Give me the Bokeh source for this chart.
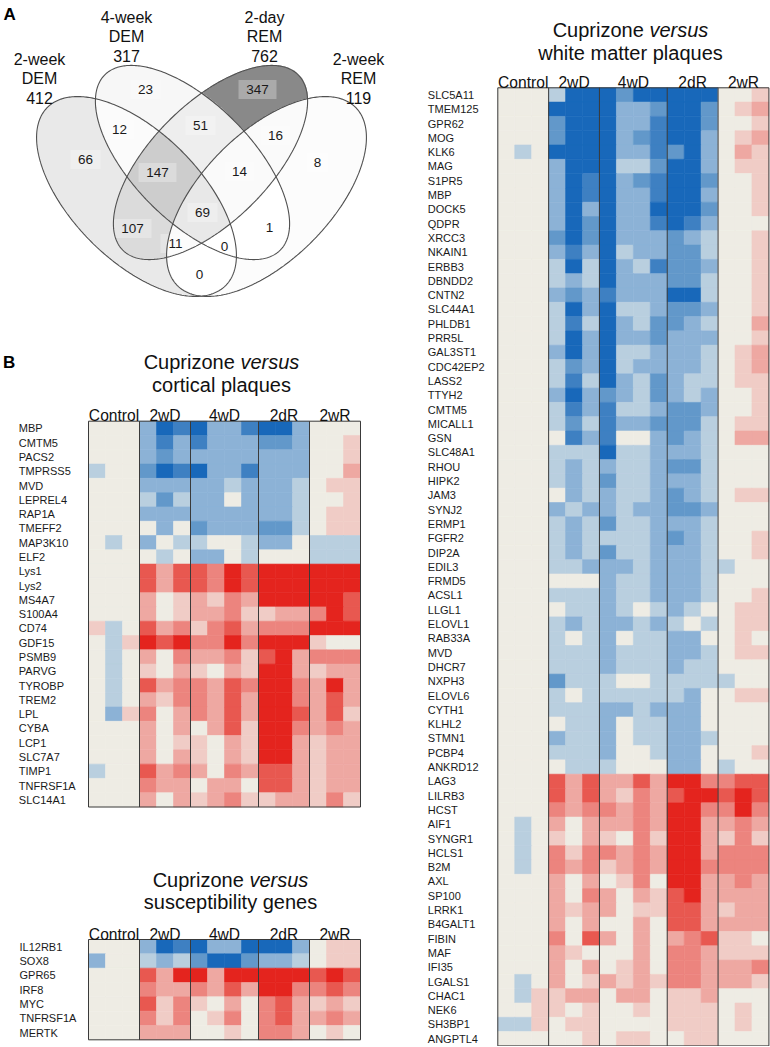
import numpy as np
from bokeh.plotting import figure
from bokeh.models import Range1d, LinearColorMapper, ColumnDataSource
from bokeh.transform import transform
from bokeh.layouts import row, column
from bokeh.embed import file_html
from bokeh.resources import INLINE
from bokeh.core.properties import value

# ---------------- data ----------------
venn_set_lines = [["2-week", "DEM"], ["4-week", "DEM"], ["2-day", "REM"], ["2-week", "REM"]]
venn_totals = [412, 317, 762, 119]
venn_regions = ["1000", "0100", "0010", "0001", "1100", "0110", "0011", "1010",
                "0101", "1001", "1110", "0111", "1011", "1101", "1111"]
venn_counts = [66, 23, 347, 8, 12, 51, 16, 107, 1, 0, 147, 14, 11, 0, 69]

groups = ["Control", "2wD", "4wD", "2dR", "2wR"]
group_sizes = [3, 3, 4, 3, 3]

cort_genes = ["MBP", "CMTM5", "PACS2", "TMPRSS5", "MVD", "LEPREL4", "RAP1A", "TMEFF2",
              "MAP3K10", "ELF2", "Lys1", "Lys2", "MS4A7", "S100A4", "CD74", "GDF15",
              "PSMB9", "PARVG", "TYROBP", "TREM2", "LPL", "CYBA", "LCP1", "SLC7A7",
              "TIMP1", "TNFRSF1A", "SLC14A1"]
cort_values = [
    [0, 0, 0, -2, -5, -4, -5, -2, -2, -4, -5, -5, -2, 0, 0, 0],
    [0, 0, 0, -2, -4, -2, -4, -2, -2, -2, -3, -3, -2, 0, 0, 1],
    [0, 0, 0, -2, -3, -2, -2, -2, -2, -2, -2, -2, -2, 0, 0, 1],
    [-1, 0, 0, -3, -5, -4, -5, -2, -2, -4, -2, -2, -2, 0, 0, 2],
    [0, 0, 0, -2, -2, -2, -2, -2, -1, -2, -2, -2, -1, 0, 1, 1],
    [0, 0, 0, -1, -3, -1, -2, -2, 0, -2, -2, -2, -1, 0, 0, 1],
    [0, 0, 0, -2, -2, -2, -2, -2, -2, -2, -2, -2, -1, 0, 1, 1],
    [0, 0, 0, 0, -2, 0, -3, -2, -2, -2, -3, -3, -1, 0, 1, 1],
    [0, -1, 0, -2, 0, -1, -1, 0, 0, -1, -2, -2, 0, -1, -1, -1],
    [0, 0, 0, 0, -1, 0, -2, -2, 0, -1, 0, 0, 0, -1, -1, -1],
    [0, 0, 0, 4, 2, 4, 4, 3, 5, 4, 5, 5, 5, 5, 5, 5],
    [0, 0, 0, 4, 2, 4, 4, 3, 5, 4, 5, 5, 5, 5, 5, 5],
    [0, 0, 0, 2, 0, 1, 2, 1, 3, 2, 5, 5, 5, 5, 5, 4],
    [0, 0, 0, 2, 0, 1, 2, 2, 3, 1, 1, 2, 2, 3, 5, 4],
    [1, -1, 0, 4, 2, 3, 1, 3, 4, 2, 3, 3, 3, 5, 5, 5],
    [0, -1, 1, 5, 4, 5, 3, 3, 5, 3, 5, 5, 5, 1, 0, 0],
    [0, -1, 0, 2, 0, 3, 2, 2, 3, 1, 4, 5, 2, 3, 3, 3],
    [0, -1, 0, 1, 0, 2, 1, 0, 2, 1, 5, 5, 2, 1, 2, 2],
    [0, -1, 0, 4, 2, 3, 3, 2, 4, 3, 5, 5, 3, 2, 5, 2],
    [0, -1, 0, 2, 1, 3, 3, 2, 4, 2, 5, 5, 3, 2, 4, 2],
    [0, -2, 1, 3, 0, 2, 3, 2, 4, 2, 5, 5, 4, 2, 4, 1],
    [0, 0, 0, 2, 0, 2, 0, 2, 4, 1, 5, 5, 3, 2, 3, 2],
    [0, 0, 0, 2, 0, 1, 1, 0, 2, 1, 5, 5, 2, 1, 2, 2],
    [0, 0, 0, 2, 0, 2, 1, 0, 2, 1, 5, 5, 2, 1, 2, 2],
    [-1, 0, 0, 4, 2, 3, 2, 0, 3, 2, 4, 4, 2, 1, 2, 2],
    [0, 0, 0, 3, 2, 2, 0, 2, 2, 0, 4, 4, 2, 1, 2, 2],
    [0, 0, 0, 2, 0, 2, 1, 2, 3, 1, 1, 2, 2, 1, 3, 1],
]

susc_genes = ["IL12RB1", "SOX8", "GPR65", "IRF8", "MYC", "TNFRSF1A", "MERTK"]
susc_values = [
    [0, 0, 0, -2, -5, -4, -5, -2, -2, -5, -5, -5, -2, 0, 1, 1],
    [-2, 0, 0, -1, -2, -1, -3, -5, -5, -3, -2, -2, -1, 0, 1, 1],
    [0, 0, 0, 4, 2, 5, 5, 2, 5, 5, 5, 5, 5, 4, 5, 4],
    [0, 0, 0, 3, 2, 2, 3, 2, 4, 2, 5, 5, 3, 3, 4, 3],
    [0, 0, 0, 4, 1, 3, 1, 0, 2, 0, 3, 4, 2, 1, 2, 1],
    [0, 0, 0, 3, 1, 3, 0, 1, 3, 0, 3, 4, 2, 2, 3, 2],
    [0, 0, 0, 2, 2, 2, 0, 0, 1, 0, 3, 3, 2, 0, 1, 0],
]

wm_genes = ["SLC5A11", "TMEM125", "GPR62", "MOG", "KLK6", "MAG", "S1PR5", "MBP", "DOCK5",
            "QDPR", "XRCC3", "NKAIN1", "ERBB3", "DBNDD2", "CNTN2", "SLC44A1", "PHLDB1",
            "PRR5L", "GAL3ST1", "CDC42EP2", "LASS2", "TTYH2", "CMTM5", "MICALL1", "GSN",
            "SLC48A1", "RHOU", "HIPK2", "JAM3", "SYNJ2", "ERMP1", "FGFR2", "DIP2A", "EDIL3",
            "FRMD5", "ACSL1", "LLGL1", "ELOVL1", "RAB33A", "MVD", "DHCR7", "NXPH3", "ELOVL6",
            "CYTH1", "KLHL2", "STMN1", "PCBP4", "ANKRD12", "LAG3", "LILRB3", "HCST", "AIF1",
            "SYNGR1", "HCLS1", "B2M", "AXL", "SP100", "LRRK1", "B4GALT1", "FIBIN", "MAF",
            "IFI35", "LGALS1", "CHAC1", "NEK6", "SH3BP1", "ANGPTL4"]
wm_values = [
    [0, 0, 0, -1, -5, -5, -5, -3, -5, -5, -5, -5, -5, 0, 0, 1],
    [0, 0, 0, -5, -5, -5, -5, -2, -2, -3, -5, -5, -3, 0, 1, 2],
    [0, 0, 0, -3, -5, -5, -5, -2, -2, -4, -5, -5, -3, 0, 0, 1],
    [0, 0, 0, -3, -5, -5, -5, -2, -3, -4, -5, -5, -2, 0, 1, 2],
    [0, -1, 0, -5, -5, -5, -5, -2, -2, -4, -3, -5, -2, 0, 2, 1],
    [0, 0, 0, -2, -5, -5, -5, -1, -1, -3, -5, -5, -2, 0, 1, 1],
    [0, 0, 0, -2, -5, -4, -5, -2, -3, -4, -5, -5, -3, 0, 0, 1],
    [0, 0, 0, -2, -5, -4, -5, -2, -2, -4, -5, -5, -2, 0, 0, 1],
    [0, 0, 0, -2, -5, -2, -5, -2, -2, -5, -5, -5, -3, 0, 0, 1],
    [0, 0, 0, -2, -5, -3, -5, -2, -2, -4, -5, -4, -2, 0, 0, 0],
    [0, 0, 0, -3, -5, -3, -5, -2, -2, -2, -3, -2, -1, 0, 0, 1],
    [0, 0, 0, -2, -4, -2, -5, -1, -2, -2, -3, -3, -1, 0, 0, 1],
    [0, 0, 0, -1, -5, -1, -5, -2, -1, -4, -3, -3, -2, 0, 0, 1],
    [0, 0, 0, -1, -2, -1, -5, -2, -2, -2, -3, -3, -1, 0, 0, 1],
    [0, 0, 0, -2, -3, -2, -4, -2, -2, -2, -5, -5, -1, 0, 0, 1],
    [0, 0, 0, -1, -5, -2, -5, -1, -1, -2, -3, -3, -2, 0, 0, 1],
    [0, 0, 0, -1, -4, -1, -5, -2, -1, -3, -3, -2, -1, 0, 0, 2],
    [0, 0, 0, -1, -5, -2, -5, -2, -2, -3, -2, -2, -2, 0, 0, 1],
    [0, 0, 0, -2, -5, -2, -5, -1, -1, -2, -2, -2, -1, 0, 1, 2],
    [0, 0, 0, -1, -3, -2, -5, -1, -2, -2, -2, -2, -1, 0, 1, 2],
    [0, 0, 0, -1, -4, -1, -5, -2, -1, -3, -2, -1, -1, 0, 1, 1],
    [0, 0, 0, -2, -5, -2, -3, -2, -1, -3, -2, -1, -2, 0, 0, 1],
    [0, 0, 0, -1, -4, -2, -4, -1, -1, -2, -3, -3, -2, 0, 0, 1],
    [0, 0, 0, -1, -3, -1, -4, -2, -2, -3, -3, -3, -1, 0, 1, 1],
    [0, 0, 0, 0, -4, -2, -4, 0, 0, -2, -3, -2, -1, 0, 2, 2],
    [0, 0, 0, -1, -1, -1, -5, -1, -1, -2, -2, -2, -1, 0, 0, 0],
    [0, 0, 0, -1, -2, -1, -2, -1, -1, -2, -3, -3, -1, 0, 0, 0],
    [0, 0, 0, -1, -2, -1, -3, -1, -1, -2, -2, -2, -1, 0, 0, 0],
    [0, 0, 0, 0, -2, -1, -2, -1, -1, -2, -3, -2, -1, 0, 1, 1],
    [0, 0, 0, -2, -1, -2, -2, -1, -2, -2, -3, -3, -2, 0, 0, 0],
    [0, 0, 0, -1, -2, -1, -3, -1, -1, -2, -2, -2, -1, 0, 0, 0],
    [0, 0, 0, -1, -2, -1, -1, -1, -1, -2, -3, -2, -1, 0, 0, 1],
    [0, 0, 0, -1, -2, -1, -3, -1, -1, -2, -2, -2, -1, 0, 0, 1],
    [0, 0, 0, -1, -1, -2, -2, -2, -1, -2, -2, -2, -1, -1, 0, 0],
    [0, 0, 0, 0, 0, 0, -2, -1, -1, -2, -2, -2, -1, 0, 0, 0],
    [0, 0, 0, -1, -1, -1, -2, -1, -1, -2, -2, -2, -1, 0, 0, 1],
    [0, 0, 0, 0, -1, -1, -2, -1, 0, -1, -2, -1, 0, 0, 1, 1],
    [0, 0, 0, -1, -2, -1, -2, -2, -1, -2, -1, 0, -1, 0, 1, 1],
    [0, 0, 0, -1, 0, -1, -2, 0, -1, -1, -2, -2, 0, 0, 1, 0],
    [0, 0, 0, -1, -1, -1, -2, -1, -1, -1, -2, -2, -1, 0, 1, 1],
    [0, 0, 0, -1, -1, -1, -2, -1, -1, -1, -2, -1, -1, 0, 0, 0],
    [0, 0, 0, -3, -1, -1, -1, 0, 0, -1, -1, -1, -1, -1, 0, 0],
    [0, 0, 0, -1, 0, -1, -1, -1, -1, -1, -1, -2, 0, 0, 1, 1],
    [0, 0, 0, -1, -1, -1, -2, -2, -1, -2, -2, -2, 0, 0, 0, 0],
    [0, 0, 0, 0, -1, -1, -2, 0, -1, -1, -2, -2, 0, 0, 0, 0],
    [0, 0, 0, -2, -1, -1, -2, 0, -1, -1, -2, -2, -1, 0, 0, 0],
    [0, 0, 0, -1, -1, -1, -2, 0, 0, -1, -2, -2, 0, 0, 0, 1],
    [0, 0, 0, 0, -1, -1, -1, 0, 0, 0, -2, -2, 0, -1, 0, 0],
    [0, 0, 0, 4, 2, 4, 2, 2, 4, 2, 5, 5, 3, 3, 4, 4],
    [0, 0, 0, 4, 2, 4, 2, 1, 3, 2, 4, 5, 5, 4, 5, 4],
    [0, 0, 0, 3, 2, 3, 3, 2, 3, 2, 5, 5, 3, 3, 5, 3],
    [0, -1, 0, 2, 0, 2, 2, 2, 3, 2, 5, 5, 2, 2, 3, 2],
    [0, -1, 0, 1, 0, 2, 1, 0, 3, 1, 5, 5, 2, 1, 3, 1],
    [0, -1, 0, 3, 1, 3, 3, 2, 3, 2, 5, 5, 2, 3, 3, 3],
    [0, -1, 0, 3, 2, 3, 1, 2, 3, 2, 5, 5, 3, 3, 3, 3],
    [0, 0, 0, 2, 0, 2, 0, 1, 3, 0, 5, 5, 2, 2, 3, 2],
    [0, 0, 0, 2, 0, 3, 2, 0, 2, 1, 4, 5, 2, 2, 2, 2],
    [0, 0, 0, 2, 1, 2, 2, 0, 1, 1, 4, 4, 2, 1, 2, 2],
    [0, 0, 0, 2, 0, 2, 0, 0, 2, 0, 4, 4, 2, 2, 2, 2],
    [0, 0, 0, 3, 0, 4, 2, 0, 2, 0, 2, 3, 4, 1, 1, 0],
    [0, 0, 0, 2, 1, 0, 0, 0, 2, 0, 3, 3, 2, 1, 1, 1],
    [0, 0, 0, 2, 0, 2, 0, 1, 2, 0, 3, 3, 2, 2, 2, 3],
    [0, -1, 0, 2, 0, 1, 2, 1, 2, 1, 3, 3, 2, 2, 2, 1],
    [0, -1, 1, 1, 2, 2, 0, 2, 2, 0, 1, 1, 2, 0, 0, 0],
    [0, 0, 1, 1, 0, 1, 0, 0, 1, 0, 1, 1, 1, 0, 1, 0],
    [-1, -1, 1, 0, 1, 1, 0, 0, 0, 0, 1, 1, 1, 0, 1, 0],
    [0, 0, 0, 0, 0, 1, 0, 1, 1, 0, 0, 1, 1, 0, 0, 0],
]

# ---------------- styling / layout ----------------
K = 1.0               # page px per reference px
FONT = value("Liberation Sans")
heat_palette = ["#1868BA", "#3E80C2", "#6298CA", "#8CB2D6", "#B9CFDF", "#EEECE4",
                "#F0CCC6", "#EEA8A2", "#EC847E", "#E85850", "#E4241E"]
mapper = LinearColorMapper(palette=heat_palette, low=-5.5, high=5.5)
LINE = "#3a3a3a"


def px(sz):
    return f"{sz * K:.2f}px"


def base_fig(w, h, xr, yr):
    p = figure(width=w, height=h, x_range=Range1d(*xr), y_range=Range1d(*yr),
               output_backend="svg", toolbar_location=None,
               x_axis_location=None, y_axis_location=None,
               min_border=0, outline_line_color=None)
    p.grid.visible = False
    p.background_fill_color = "white"
    p.border_fill_color = "white"
    return p


def heatmap(genes, values, box, grid, label_x, title_cx, title_b1, title_b2, title2,
            col_base, panel_letter=None):
    rx0, ry0, w, h = box
    xL, xR, yT, yB = grid
    n = len(genes)
    m = sum(group_sizes)
    cw = (xR - xL) / m
    rh = (yB - yT) / n
    fx = lambda xr: (xr - xL) / cw
    fy = lambda yr: n - (yr - yT) / rh
    p = base_fig(w, h, (fx(rx0), fx(rx0 + w / K)), (fy(ry0 + h / K), fy(ry0)))

    xs, ys, vs = [], [], []
    for i, rv in enumerate(values):
        for j, v in enumerate(rv):
            xs.append(j + 0.5)
            ys.append(n - i - 0.5)
            vs.append(v)
    src = ColumnDataSource(dict(x=xs, y=ys, v=vs))
    p.rect("x", "y", 1, 1, source=src, fill_color=transform("v", mapper),
           line_color=transform("v", mapper), line_width=0.6)

    bounds = np.cumsum(group_sizes)[:-1]
    p.segment(x0=bounds, y0=[0] * len(bounds), x1=bounds, y1=[n] * len(bounds),
              line_color=LINE, line_width=1)
    p.rect(x=[m / 2], y=[n / 2], width=[m], height=[n], fill_alpha=0,
           line_color=LINE, line_width=1)

    p.text(x=[fx(label_x)] * n, y=[n - i - 0.5 for i in range(n)], text=genes,
           text_font=FONT, text_font_size=px(11), text_baseline="middle",
           text_align="left", text_color="#1a1a1a")

    starts = np.concatenate([[0], bounds])
    centers = starts + np.array(group_sizes) / 2
    p.text(x=centers, y=[fy(col_base)] * len(groups), text=groups, text_font=FONT,
           text_font_size=px(15.6), text_baseline="alphabetic", text_align="center",
           text_color="#111111")

    F = 20.0
    x_end_cup = title_cx + 0.667 * F
    x_start_vs = title_cx + 0.945 * F
    p.text(x=[fx(x_end_cup)], y=[fy(title_b1)], text=["Cuprizone"], text_font=FONT,
           text_font_size=px(F), text_align="right", text_baseline="alphabetic",
           text_color="#111111")
    p.text(x=[fx(x_start_vs)], y=[fy(title_b1)], text=["versus"], text_font=FONT,
           text_font_size=px(F), text_font_style="italic", text_align="left",
           text_baseline="alphabetic", text_color="#111111")
    p.text(x=[fx(title_cx)], y=[fy(title_b2)], text=[title2], text_font=FONT,
           text_font_size=px(F), text_align="center", text_baseline="alphabetic",
           text_color="#111111")
    if panel_letter:
        lx, ly, lt = panel_letter
        p.text(x=[fx(lx)], y=[fy(ly)], text=[lt], text_font=FONT, text_font_size=px(17),
               text_font_style="bold", text_align="left", text_baseline="alphabetic",
               text_color="#000000")
    return p


# ---------------- Venn ----------------
def venn_fig(box):
    rx0, ry0, w, h = box
    rx1, ry1 = rx0 + w / K, ry0 + h / K
    p = base_fig(w, h, (rx0, rx1), (-ry1, -ry0))
    ell = [(136, 196, 126, 64, 45), (192, 162, 124, 59, 45),
           (210, 162, 124, 59, 135), (266, 196, 126, 64, 135)]
    res = 2
    nx, ny = int(round((rx1 - rx0) * res)), int(round((ry1 - ry0) * res))
    gx = rx0 + (np.arange(nx) + 0.5) / res
    gy = ry1 - (np.arange(ny) + 0.5) / res
    X, Y = np.meshgrid(gx, gy)
    code = np.zeros(X.shape, dtype=int)
    for k, (cx, cy, a, b, ang) in enumerate(ell):
        t = np.deg2rad(ang)
        dx, dy = X - cx, Y - cy
        pp = dx * np.cos(t) + dy * np.sin(t)
        qq = -dx * np.sin(t) + dy * np.cos(t)
        inside = (pp / a) ** 2 + (qq / b) ** 2 <= 1
        code += inside.astype(int) << (3 - k)
    lut = np.full(16, 255, dtype=np.uint8)
    for reg, cnt in zip(venn_regions, venn_counts):
        lut[int(reg, 2)] = int(np.clip(round(255 - 0.34 * cnt), 0, 255))
    g = lut[code]
    img = np.empty(X.shape, dtype=np.uint32)
    view = img.view(dtype=np.uint8).reshape(X.shape + (4,))
    view[..., 0] = g
    view[..., 1] = g
    view[..., 2] = g
    view[..., 3] = 255
    p.image_rgba(image=[img], x=rx0, y=-ry1, dw=rx1 - rx0, dh=ry1 - ry0)

    pos = {"1000": (85, 159), "0100": (145, 89), "0010": (257, 89), "0001": (317, 162),
           "1100": (119, 129), "0110": (200, 125), "0011": (275, 135), "1010": (132, 228),
           "0101": (269, 227), "1001": (199, 274), "1110": (157, 172), "0111": (239, 171),
           "1011": (175, 243), "1101": (224, 246), "1111": (202, 212)}
    lx = [pos[r][0] for r in venn_regions]
    ly = [-pos[r][1] for r in venn_regions]
    labels = [str(c) for c in venn_counts]
    p.rect(x=lx, y=ly, width=[14 + 8 * len(s) for s in labels], height=19,
           fill_color="white", fill_alpha=0.28, line_color=None)

    tt = np.linspace(0, 2 * np.pi, 361)
    for (cx, cy, a, b, ang) in ell:
        t = np.deg2rad(ang)
        ex = cx + a * np.cos(tt) * np.cos(t) - b * np.sin(tt) * np.sin(t)
        ey = cy + a * np.cos(tt) * np.sin(t) + b * np.sin(tt) * np.cos(t)
        p.line(ex, -ey, line_color="#505050", line_width=1.1)

    p.text(x=lx, y=ly, text=labels, text_font=FONT, text_font_size=px(13.5),
           text_align="center", text_baseline="middle", text_color="#1a1a1a")

    centers = [39, 126, 264, 358]
    first_base = [58.5, 16.5, 16.5, 58.5]
    sx, sy, st = [], [], []
    for i in range(4):
        lines = venn_set_lines[i] + [str(venn_totals[i])]
        for j, s in enumerate(lines):
            sx.append(centers[i])
            sy.append(-(first_base[i] + 19.4 * j))
            st.append(s)
    p.text(x=sx, y=sy, text=st, text_font=FONT, text_font_size=px(16),
           text_align="center", text_baseline="alphabetic", text_color="#111111")
    p.text(x=[3], y=[-14], text=["A"], text_font=FONT, text_font_size=px(17),
           text_font_style="bold", text_align="left", text_baseline="alphabetic",
           text_color="#000000")
    return p


WL, WR = 385, 385
H1, H2, H3 = 318, 494, 234
RX0, RY0 = 0.0, 0.0
ry_c = RY0 + H1 / K
ry_s = ry_c + H2 / K
rx_r = RX0 + WL / K

venn = venn_fig((RX0, RY0, WL, H1))
cort = heatmap(cort_genes, cort_values, (RX0, ry_c, WL, H2), (88, 360, 420.7, 806.5),
               18.3, 221, 361.7, 384.3, "cortical plaques", 414.5,
               panel_letter=(2.5, 362, "B"))
susc = heatmap(susc_genes, susc_values, (RX0, ry_s, WL, H3), (88, 360, 939, 1039.3),
               19, 230, 879, 901, "susceptibility genes", 934.3)
wm = heatmap(wm_genes, wm_values, (rx_r, RY0, WR, H1 + H2 + H3), (497.3, 768.4, 87.3, 1045.4),
             427.3, 630, 29.5, 52, "white matter plaques", 82)

layout = row(column(venn, cort, susc, spacing=0), wm, spacing=0)
open("out.html", "w").write(file_html(layout, INLINE))
